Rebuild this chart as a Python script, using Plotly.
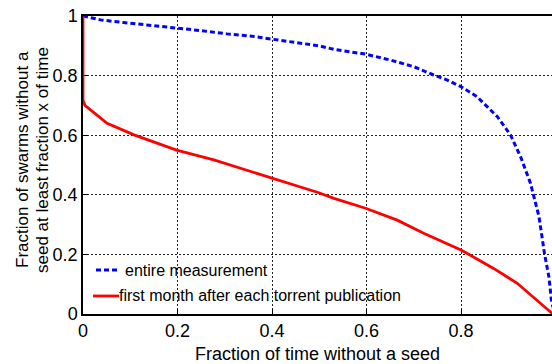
import plotly.graph_objects as go

# Data
blue_x = [0, 0.037, 0.086, 0.143, 0.198, 0.249, 0.305, 0.354, 0.401, 0.446, 0.499,
          0.531, 0.598, 0.651, 0.700, 0.742, 0.771, 0.800, 0.834, 0.848, 0.877,
          0.905, 0.926, 0.947, 0.965, 0.977, 0.986, 0.992, 1.0]
blue_y = [1.0, 0.987, 0.978, 0.969, 0.961, 0.951, 0.940, 0.933, 0.922, 0.913, 0.900,
          0.888, 0.872, 0.852, 0.830, 0.802, 0.785, 0.763, 0.729, 0.707, 0.662,
          0.600, 0.528, 0.439, 0.327, 0.200, 0.125, 0.037, 0.0]

red_x = [0, 0, 0.004, 0.016, 0.051, 0.108, 0.198, 0.277, 0.402, 0.499, 0.531,
         0.598, 0.665, 0.721, 0.800, 0.869, 0.919, 0.993, 1.0]
red_y = [1.0, 0.718, 0.700, 0.685, 0.640, 0.601, 0.550, 0.517, 0.455, 0.407, 0.388,
         0.355, 0.315, 0.271, 0.215, 0.153, 0.103, 0.002, 0.0]

tick_vals = [0, 0.2, 0.4, 0.6, 0.8, 1]
tick_text = ["0", "0.2", "0.4", "0.6", "0.8", "1"]

series_names = ["entire measurement", "first month after each torrent publication"]
x_title = "Fraction of time without a seed"
y_title_lines = ["Fraction of swarms without a", "seed at least fraction x of time"]

W, H = 552, 364
L, R, T, B = 83, 0, 16, 50
pw, ph = W - L - R, H - T - B
px_per_unit = 472.5
x_max = pw / px_per_unit

FONT = "Liberation Sans, Arial, sans-serif"

def px2paper_x(px):
    return (px - L) / pw

def px2paper_y(py):
    return (H - B - py) / ph

fig = go.Figure()
fig.add_trace(go.Scatter(x=blue_x, y=blue_y, mode="lines", name=series_names[0],
                         line=dict(color="#0000ff", width=3, dash="5px,3px"),
                         showlegend=False))
fig.add_trace(go.Scatter(x=red_x, y=red_y, mode="lines", name=series_names[1],
                         line=dict(color="#ff0000", width=2.8),
                         showlegend=False))

axis_common = dict(
    showline=True, linecolor="black", linewidth=1.5,
    showgrid=True, gridcolor="#222222", gridwidth=1, griddash="2px,2px",
    ticks="inside", ticklen=5, tickcolor="black", tickwidth=1,
    tickfont=dict(family=FONT, size=18, color="black"),
    zeroline=False, layer="below traces", automargin=False,
)

fig.update_layout(
    template="none",
    width=W, height=H,
    margin=dict(l=L, r=R, t=T, b=B, pad=0, autoexpand=False),
    paper_bgcolor="white", plot_bgcolor="white",
    xaxis=dict(range=[0, x_max], tickvals=tick_vals[:-1], ticktext=tick_text[:-1],
               mirror=True, **axis_common),
    yaxis=dict(range=[0, 1], tickvals=tick_vals, ticktext=tick_text,
               mirror=False, **axis_common),
    showlegend=False,
)

# cut-off "1" tick label at x = 1 (just beyond the visible edge)
fig.add_annotation(text=tick_text[-1], xref="paper", yref="paper",
                   x=(1.0 * px_per_unit) / pw, y=px2paper_y(334), showarrow=False,
                   font=dict(family=FONT, size=18, color="black"),
                   xanchor="center", yanchor="middle")

# axis titles
fig.add_annotation(text=x_title, xref="paper", yref="paper",
                   x=px2paper_x(317), y=px2paper_y(354), showarrow=False,
                   font=dict(family=FONT, size=18, color="black"),
                   xanchor="center", yanchor="middle")
fig.add_annotation(text=y_title_lines[0], xref="paper", yref="paper",
                   x=px2paper_x(22), y=px2paper_y(160), showarrow=False, textangle=-90,
                   font=dict(family=FONT, size=17, color="black"),
                   xanchor="center", yanchor="middle")
fig.add_annotation(text=y_title_lines[1], xref="paper", yref="paper",
                   x=px2paper_x(42), y=px2paper_y(160), showarrow=False, textangle=-90,
                   font=dict(family=FONT, size=17, color="black"),
                   xanchor="center", yanchor="middle")

# legend (drawn manually inside the plot, no box)
fig.add_shape(type="line", xref="paper", yref="paper",
              x0=px2paper_x(96), x1=px2paper_x(118), y0=px2paper_y(270), y1=px2paper_y(270),
              line=dict(color="#0000ff", width=3, dash="5px,3px"))
fig.add_annotation(text=series_names[0], xref="paper", yref="paper",
                   x=px2paper_x(123), y=px2paper_y(270), showarrow=False,
                   font=dict(family=FONT, size=16, color="black"),
                   xanchor="left", yanchor="middle")
fig.add_shape(type="line", xref="paper", yref="paper",
              x0=px2paper_x(93), x1=px2paper_x(119), y0=px2paper_y(296), y1=px2paper_y(296),
              line=dict(color="#ff0000", width=2.8))
fig.add_annotation(text=series_names[1], xref="paper", yref="paper",
                   x=px2paper_x(117), y=px2paper_y(295), showarrow=False,
                   font=dict(family=FONT, size=16, color="black"),
                   xanchor="left", yanchor="middle")

fig.write_html(
    "out.html",
    config={"displayModeBar": False},
    post_script="document.body.style.margin='0';document.body.style.padding='0';"
                "document.body.style.overflow='hidden';",
)
